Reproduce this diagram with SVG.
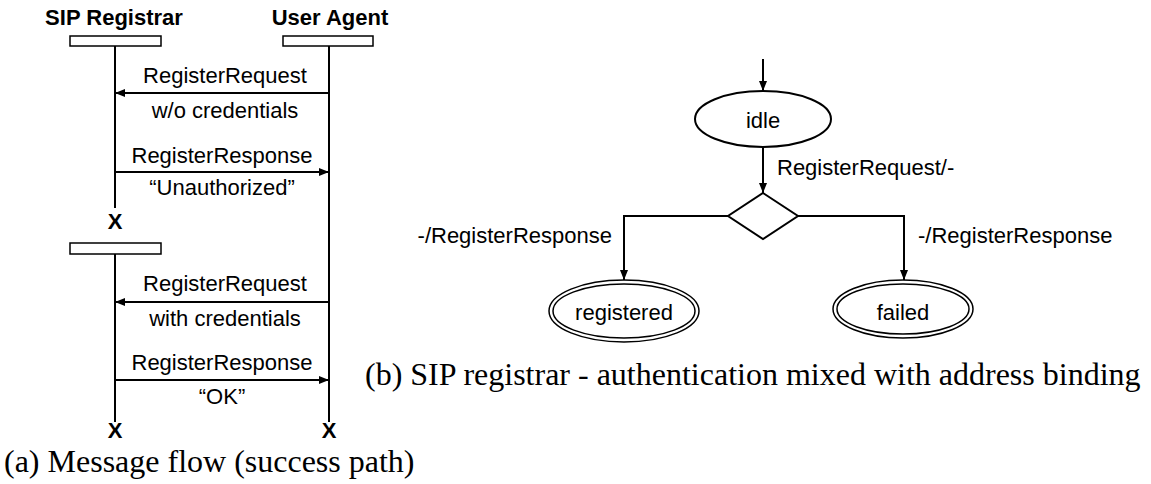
<svg xmlns="http://www.w3.org/2000/svg" width="1151" height="484" viewBox="0 0 1151 484">
<style>
.t{font-family:"Liberation Sans",Arial,sans-serif;font-size:22px;fill:#000}
.b{font-weight:bold}
.c{text-anchor:middle}
.cap{font-family:"Liberation Serif","Times New Roman",serif;font-size:32px;fill:#000}
.ln{stroke:#000;stroke-width:2;fill:none}
.box{stroke:#000;stroke-width:1.5;fill:#fff}
.st{stroke:#000;stroke-width:2;fill:#fff}
.dbl{stroke:#000;stroke-width:1.5;fill:none}
</style>
<defs>
<marker id="ah" viewBox="0 0 10 8" refX="10" refY="4" markerWidth="10" markerHeight="8" markerUnits="userSpaceOnUse" orient="auto">
<path d="M0,0 L10,4 L0,8 z" fill="#000"/>
</marker>
</defs>
<rect width="1151" height="484" fill="#fff"/>

<g id="lifelines">
<line class="ln" x1="115" y1="46" x2="115" y2="208"/>
<line class="ln" x1="115" y1="254" x2="115" y2="422"/>
<line class="ln" x1="329" y1="46" x2="329" y2="422"/>
</g>

<g id="registrar">
<text class="t b c" x="114" y="25">SIP Registrar</text>
<rect class="box" x="70" y="36" width="91" height="10"/>
</g>
<g id="useragent">
<text class="t b c" x="330" y="25">User Agent</text>
<rect class="box" x="283" y="36" width="90" height="10"/>
</g>
<g id="registrar2">
<rect class="box" x="70" y="243" width="91" height="11"/>
</g>
<g id="terminations">
<text class="t b c" x="115" y="229">X</text>
<text class="t b c" x="115" y="438">X</text>
<text class="t b c" x="329" y="438">X</text>
</g>

<g id="messages">
<line class="ln" x1="329" y1="93" x2="115" y2="93" marker-end="url(#ah)"/>
<text class="t c" x="225" y="83">RegisterRequest</text>
<text class="t c" x="225" y="118">w/o credentials</text>
<line class="ln" x1="115" y1="172" x2="329" y2="172" marker-end="url(#ah)"/>
<text class="t c" x="222" y="163">RegisterResponse</text>
<text class="t c" x="222" y="195">“Unauthorized”</text>
<line class="ln" x1="329" y1="302" x2="115" y2="302" marker-end="url(#ah)"/>
<text class="t c" x="225" y="291">RegisterRequest</text>
<text class="t c" x="225" y="326">with credentials</text>
<line class="ln" x1="115" y1="380" x2="329" y2="380" marker-end="url(#ah)"/>
<text class="t c" x="222" y="370">RegisterResponse</text>
<text class="t c" x="222" y="404">“OK”</text>
</g>

<g id="connectors">
<line class="ln" x1="763" y1="59" x2="763" y2="91" marker-end="url(#ah)"/>
<line class="ln" x1="763" y1="147" x2="763" y2="193" marker-end="url(#ah)"/>
<text class="t" x="777" y="175">RegisterRequest/-</text>
<polyline class="ln" points="728,216 624,216 624,280" marker-end="url(#ah)"/>
<text class="t" x="612" y="243" text-anchor="end">-/RegisterResponse</text>
<polyline class="ln" points="798,216 904,216 904,280" marker-end="url(#ah)"/>
<text class="t" x="918" y="243">-/RegisterResponse</text>
</g>

<g id="idle">
<ellipse class="st" cx="763" cy="119" rx="68" ry="28"/>
<text class="t c" x="763" y="128">idle</text>
</g>
<g id="decision">
<polygon class="st" points="763,193 798,216 763,239 728,216"/>
</g>
<g id="registered">
<ellipse class="dbl" cx="624" cy="311" rx="75" ry="31"/>
<ellipse class="dbl" cx="624" cy="311" rx="71" ry="27"/>
<text class="t c" x="624" y="320">registered</text>
</g>
<g id="failed">
<ellipse class="dbl" cx="903" cy="309" rx="70" ry="29"/>
<ellipse class="dbl" cx="903" cy="309" rx="66" ry="25"/>
<text class="t c" x="903" y="320">failed</text>
</g>

<text class="cap" x="4" y="472">(a) Message flow (success path)</text>
<text class="cap" x="365" y="385">(b) SIP registrar - authentication mixed with address binding</text>
</svg>
